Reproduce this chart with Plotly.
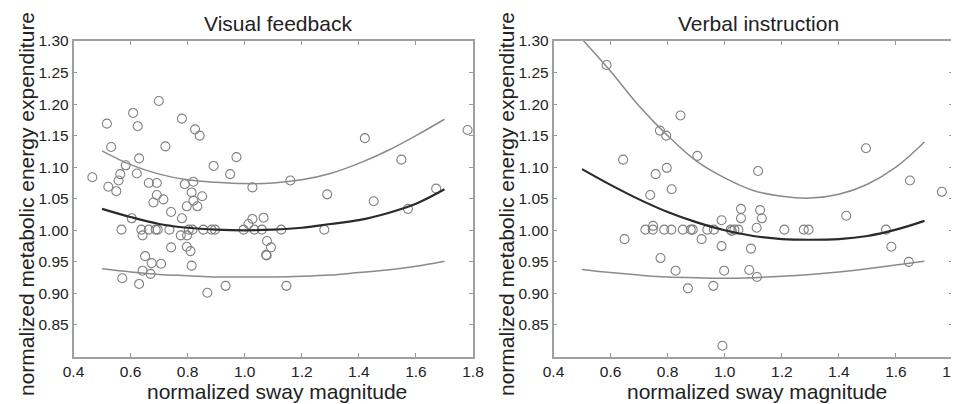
import plotly.graph_objects as go

# --- Visual feedback (left panel): individual trials ---
vis_x = [0.466, 0.517, 0.532, 0.522, 0.550, 0.558, 0.564, 0.583, 0.568, 0.571,
         0.604, 0.609, 0.625, 0.630, 0.622, 0.630, 0.638, 0.642, 0.642, 0.651,
         0.664, 0.670, 0.674, 0.664, 0.680, 0.692, 0.692, 0.688, 0.695, 0.699,
         0.707, 0.715, 0.722, 0.736, 0.742, 0.742, 0.780, 0.780, 0.776, 0.790,
         0.797, 0.797, 0.798, 0.804, 0.810, 0.814, 0.820, 0.820, 0.814, 0.817,
         0.826, 0.842, 0.834, 0.851, 0.855, 0.869, 0.884, 0.896, 0.891, 0.933,
         0.949, 0.971, 0.996, 1.013, 1.027, 1.027, 1.034, 1.060, 1.066, 1.078,
         1.092, 1.075, 1.077, 1.128, 1.146, 1.160, 1.279, 1.289, 1.421, 1.452,
         1.549, 1.572, 1.671, 1.781]
vis_y = [1.084, 1.169, 1.132, 1.069, 1.062, 1.079, 1.089, 1.103, 1.001, 0.924,
         1.019, 1.186, 1.165, 1.114, 1.090, 0.915, 1.001, 0.992, 0.936, 0.959,
         1.075, 0.931, 0.948, 1.001, 1.044, 1.075, 1.056, 1.001, 1.001, 1.205,
         0.947, 1.049, 1.133, 1.001, 1.029, 0.973, 1.177, 1.019, 0.992, 1.073,
         1.038, 0.974, 0.992, 1.001, 0.967, 1.060, 1.077, 1.047, 0.944, 1.001,
         1.160, 1.150, 1.038, 1.054, 1.001, 0.901, 1.001, 1.001, 1.102, 0.912,
         1.089, 1.116, 1.001, 1.010, 1.018, 1.068, 1.001, 1.001, 1.020, 0.983,
         0.973, 0.961, 0.960, 1.001, 0.912, 1.079, 1.001, 1.057, 1.146, 1.046,
         1.112, 1.034, 1.066, 1.159]

# --- Verbal instruction (right panel): individual trials ---
verb_x = [0.586, 0.644, 0.649, 0.722, 0.748, 0.749, 0.739, 0.758, 0.773, 0.795,
          0.797, 0.775, 0.788, 0.813, 0.814, 0.828, 0.845, 0.853, 0.881, 0.888,
          0.871, 0.904, 0.919, 0.939, 0.962, 0.960, 0.989, 0.989, 0.998, 0.992,
          1.021, 1.025, 1.034, 1.048, 1.057, 1.057, 1.092, 1.086, 1.113, 1.112,
          1.117, 1.124, 1.130, 1.209, 1.277, 1.294, 1.426, 1.495, 1.565, 1.584,
          1.649, 1.645, 1.761]
verb_y = [1.262, 1.112, 0.986, 1.001, 1.001, 1.007, 1.056, 1.089, 1.158, 1.150,
          1.099, 0.956, 1.001, 1.001, 1.065, 0.936, 1.182, 1.001, 1.001, 1.001,
          0.908, 1.118, 0.986, 1.001, 1.001, 0.912, 1.016, 0.975, 0.936, 0.817,
          1.001, 0.999, 1.001, 1.001, 1.034, 1.019, 0.971, 0.937, 0.926, 1.004,
          1.094, 1.032, 1.019, 1.001, 1.001, 1.001, 1.023, 1.130, 1.001, 0.974,
          1.079, 0.950, 1.061]

# fitted curve + bounds at fixed x steps
fit_x = [0.5, 0.6, 0.7, 0.8, 0.9, 1.0, 1.1, 1.2, 1.3, 1.4, 1.5, 1.6, 1.7]

vis_fit = [1.034, 1.021, 1.010, 1.004, 1.001, 1.000, 1.001, 1.004, 1.010, 1.016, 1.027, 1.042, 1.065]
vis_upper = [1.126, 1.104, 1.089, 1.080, 1.076, 1.074, 1.075, 1.080, 1.090, 1.106, 1.126, 1.150, 1.176]
vis_lower = [0.939, 0.934, 0.930, 0.928, 0.926, 0.926, 0.926, 0.927, 0.929, 0.933, 0.937, 0.943, 0.951]

verb_fit = [1.097, 1.072, 1.049, 1.029, 1.013, 1.000, 0.991, 0.986, 0.985, 0.986, 0.991, 1.001, 1.015]
verb_upper = [1.303, 1.252, 1.197, 1.150, 1.110, 1.083, 1.063, 1.054, 1.051, 1.057, 1.073, 1.100, 1.140]
verb_lower = [0.938, 0.933, 0.929, 0.926, 0.925, 0.924, 0.925, 0.927, 0.930, 0.934, 0.939, 0.945, 0.951]

panel_titles = ["Visual feedback", "Verbal instruction"]
x_label = "normalized sway magnitude"
y_label = "normalized metabolic energy expenditure"
x_ticks = [0.4, 0.6, 0.8, 1.0, 1.2, 1.4, 1.6, 1.8]
y_ticks = [0.85, 0.90, 0.95, 1.00, 1.05, 1.10, 1.15, 1.20, 1.25, 1.30]

FONT = "Liberation Sans, Arial, sans-serif"
W, H = 959, 404
OFF = 8  # page body margin shifts the whole figure by 8px


def fx(px):
    # page pixel -> paper fraction (x)
    return (px - OFF) / W


def fy(py):
    # page pixel (from top) -> paper fraction (y)
    return 1 - (py - OFF) / H


fig = go.Figure()

panels = [
    ("x", "y", vis_x, vis_y, vis_fit, vis_upper, vis_lower),
    ("x2", "y2", verb_x, verb_y, verb_fit, verb_upper, verb_lower),
]
for xa, ya, px, py, fit, up, lo in panels:
    fig.add_trace(go.Scatter(
        x=px, y=py, mode="markers", xaxis=xa, yaxis=ya,
        marker=dict(symbol="circle-open", size=9, color="#808080", line=dict(width=1.1)),
        showlegend=False,
    ))
    for ys, col, w in [(up, "#8a8a8a", 1.5), (lo, "#8a8a8a", 1.5), (fit, "#2a2a2a", 2.2)]:
        fig.add_trace(go.Scatter(
            x=fit_x, y=ys, mode="lines", xaxis=xa, yaxis=ya,
            line=dict(color=col, width=w, shape="spline"),
            showlegend=False,
        ))

# axes: matlab-like box with inward ticks on every side
common_x = dict(
    range=[0.4, 1.8], tickvals=x_ticks, tickformat=".1f",
    ticks="inside", ticklen=4, tickcolor="#999999",
    showline=True, linecolor="#a0a0a0", linewidth=1.5, mirror="allticks",
    showgrid=False, zeroline=False, automargin=False,
    tickfont=dict(family=FONT, size=15.5, color="#222222"),
)
common_y = dict(
    range=[0.80, 1.30], tickvals=y_ticks, tickformat=".2f",
    ticks="inside", ticklen=4, tickcolor="#999999",
    showline=True, linecolor="#a0a0a0", linewidth=1.5, mirror="allticks",
    showgrid=False, zeroline=False, automargin=False,
    tickfont=dict(family=FONT, size=15.5, color="#222222"),
)

y_dom = [fy(356.5), fy(41)]
fig.update_layout(
    width=W, height=H, autosize=False,
    margin=dict(l=0, r=0, t=0, b=0, pad=0, autoexpand=False),
    paper_bgcolor="white", plot_bgcolor="white",
    xaxis=dict(domain=[fx(73.5), fx(473)], anchor="y", **common_x),
    yaxis=dict(domain=y_dom, anchor="x", **common_y),
    xaxis2=dict(domain=[fx(553.5), fx(953)], anchor="y2", **common_x),
    yaxis2=dict(domain=y_dom, anchor="x2", **common_y),
)

# titles and axis labels as annotations (pixel positions from the reference)
offsets = [0, 480]
for title, dx in zip(panel_titles, offsets):
    fig.add_annotation(text=title, x=fx(278 + dx), y=fy(23), xref="paper", yref="paper",
                       showarrow=False, xanchor="center", yanchor="middle",
                       font=dict(family=FONT, size=21, color="#222222"))
    fig.add_annotation(text=x_label, x=fx(277 + dx), y=fy(391), xref="paper", yref="paper",
                       showarrow=False, xanchor="center", yanchor="middle",
                       font=dict(family=FONT, size=21, color="#222222"))
    fig.add_annotation(text=y_label, x=fx(26 + dx), y=fy(204), xref="paper", yref="paper",
                       showarrow=False, xanchor="center", yanchor="middle", textangle=-90,
                       font=dict(family=FONT, size=21, color="#222222"))

fig.write_html("out.html")
